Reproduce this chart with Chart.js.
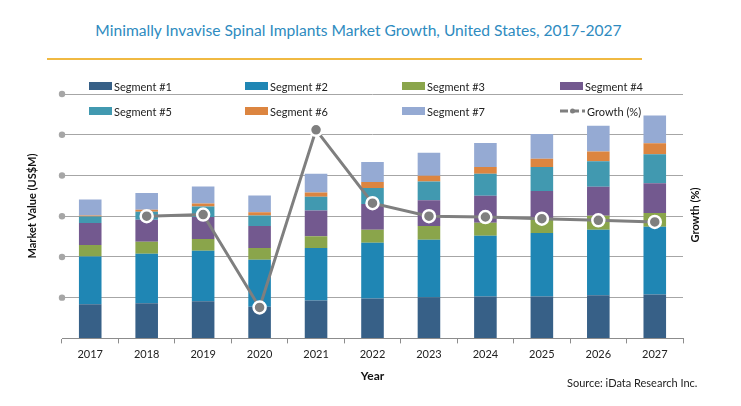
<!DOCTYPE html>
<html>
<head>
<meta charset="utf-8">
<script src="https://cdn.jsdelivr.net/npm/chart.js@4.4.1/dist/chart.umd.min.js"></script>
<style>
    body { margin: 0; background: #fff; font-family: Lato, "Noto Sans", sans-serif; }
    #wrap { position: relative; width: 741px; height: 406px; overflow: hidden; }
    #title { position: absolute; left: -12px; width: 741px; top: 21px; text-align: center; font-size: 15.6px; color: #2e8bc0; }
    #rule { position: absolute; left: 47px; width: 595px; top: 58px; height: 2px; background: #f0b942; }
    #legend { position: absolute; left: 0; top: 79px; width: 741px; font-size: 11px; color: #222; }
    .lg { position: absolute; display: flex; align-items: center; height: 14px; }
    .lg span.box { display: inline-block; width: 23px; height: 8px; margin-right: 2px; }
    #source { position: absolute; left: 567px; top: 376px; font-size: 11px; color: #222; }
    #chart { position: absolute; left: 0; top: 0; }
</style>
</head>
<body>
<div id="wrap">
    <div id="title">Minimally Invavise Spinal Implants Market Growth, United States, 2017-2027</div>
    <div id="rule"></div>
    <canvas id="chart" width="741" height="406"></canvas>
    <div id="legend"></div>
    <div id="source">Source: iData Research Inc.</div>
</div>
<script>
    // values (US$M, relative scale)
    const years = ['2017', '2018', '2019', '2020', '2021', '2022', '2023', '2024', '2025', '2026', '2027'];
    const segment1 = [84, 86, 91, 78, 93, 98, 101, 103, 103, 106, 108];
    const segment2 = [117, 122, 124, 115, 129, 137, 141, 149, 156, 161, 166];
    const segment3 = [28, 29, 29, 29, 29, 32, 34, 32, 36, 34, 34];
    const segment4 = [54, 54, 54, 54, 63, 63, 63, 66, 67, 71, 73];
    const segment5 = [16, 20, 26, 26, 34, 39, 46, 54, 59, 63, 71];
    const segment6 = [3, 5, 7, 8, 10, 15, 14, 17, 20, 24, 27];
    const segment7 = [39, 41, 42, 41, 46, 49, 57, 59, 61, 63, 68];
    const growth = [null, 5.0, 5.2, -6.2, 15.6, 6.6, 5.0, 4.9, 4.7, 4.5, 4.3];

    const segNames = ['Segment #1', 'Segment #2', 'Segment #3', 'Segment #4', 'Segment #5', 'Segment #6', 'Segment #7'];
    const segColors = ['#376087', '#1f86b4', '#8aa54b', '#73598f', '#4199b0', '#dc8540', '#95aad3'];
    const segData = [segment1, segment2, segment3, segment4, segment5, segment6, segment7];

    let datasets = [];
    datasets.push({
        type: 'line',
        label: 'Growth (%)',
        data: growth,
        yAxisID: 'y1',
        borderColor: '#7f7f7f',
        borderWidth: 3,
        pointRadius: 6,
        pointBackgroundColor: '#7f7f7f',
        pointBorderColor: '#ffffff',
        pointBorderWidth: 2.5,
        order: 0
    });
    for (let i = 0; i < segData.length; i++) {
        datasets.push({
            type: 'bar',
            label: segNames[i],
            data: segData[i],
            backgroundColor: segColors[i],
            yAxisID: 'y',
            barPercentage: 0.8,
            categoryPercentage: 0.5,
            order: 1
        });
    }

    const vText = (c, txt, x, y) => {
        c.save();
        c.translate(x, y);
        c.rotate(-Math.PI / 2);
        c.fillStyle = '#111';
        c.font = 'bold 11px Lato';
        c.textAlign = 'center';
        c.textBaseline = 'middle';
        c.fillText(txt, 0, 0);
        c.restore();
    }

    //small grey dots at the left end of each grid line + both axis titles (read bottom to top)
    const extras = {
        id: 'extras',
        afterDraw(chart) {
            const c = chart.ctx;
            const sc = chart.scales.y;
            const area = chart.chartArea;
            c.save();
            c.fillStyle = '#a6a6a6';
            for (const t of sc.ticks) {
                if (t.value == 0) continue;
                c.beginPath();
                c.arc(area.left, sc.getPixelForValue(t.value), 3.2, 0, Math.PI * 2);
                c.fill();
            }
            c.restore();
            vText(c, 'Market Value (US$M)', 32, 206);
            vText(c, 'Growth (%)', area.right + 12, 215);
        }
    };

    new Chart(document.getElementById('chart'), {
        data: { labels: years, datasets: datasets },
        options: {
            responsive: false,
            animation: false,
            layout: { padding: { left: 62, right: 58, top: 94, bottom: 19 } },
            plugins: { legend: { display: false }, tooltip: { enabled: false } },
            scales: {
                x: {
                    stacked: true,
                    grid: { drawOnChartArea: false, drawTicks: true, tickLength: 5, color: '#8c8c8c', offset: true },
                    border: { color: '#8c8c8c' },
                    ticks: { color: '#222', font: { family: 'Lato', size: 11 }, padding: 4 },
                    title: { display: true, text: 'Year', color: '#111', font: { family: 'Lato', size: 12, weight: 'bold' }, padding: { top: 4 } }
                },
                y: {
                    stacked: true,
                    min: 0, max: 600,
                    ticks: { stepSize: 100, display: false },
                    grid: { color: '#a6a6a6', drawTicks: false },
                    border: { display: false }
                },
                y1: {
                    position: 'right',
                    display: false,
                    min: -10, max: 20,
                    ticks: { stepSize: 5 },
                    grid: { display: false }
                }
            }
        },
        plugins: [extras]
    });

    // legend, 4 columns x 2 rows
    const legendEl = document.getElementById('legend');
    const colX = [89, 245, 402, 560];
    const items = segNames.map((n, i) => ({ name: n, color: segColors[i] }));
    items.push({ name: 'Growth (%)', line: true });
    items.forEach((it, i) => {
        let d = document.createElement('div');
        d.className = 'lg';
        d.style.left = colX[i % 4] + 'px';
        d.style.top = (Math.floor(i / 4) * 25) + 'px';
        if (it.line) {
            d.innerHTML = '<svg width="25" height="8" style="margin-right:2px"><line x1="0" y1="4" x2="25" y2="4" stroke="#7f7f7f" stroke-width="3" stroke-dasharray="8,3"/><circle cx="12.5" cy="4" r="2.5" fill="#7f7f7f"/></svg>' + it.name;
        } else {
            d.innerHTML = '<span class="box" style="background:' + it.color + '"></span>' + it.name;
        }
        legendEl.appendChild(d);
    });
</script>
</body>
</html>
